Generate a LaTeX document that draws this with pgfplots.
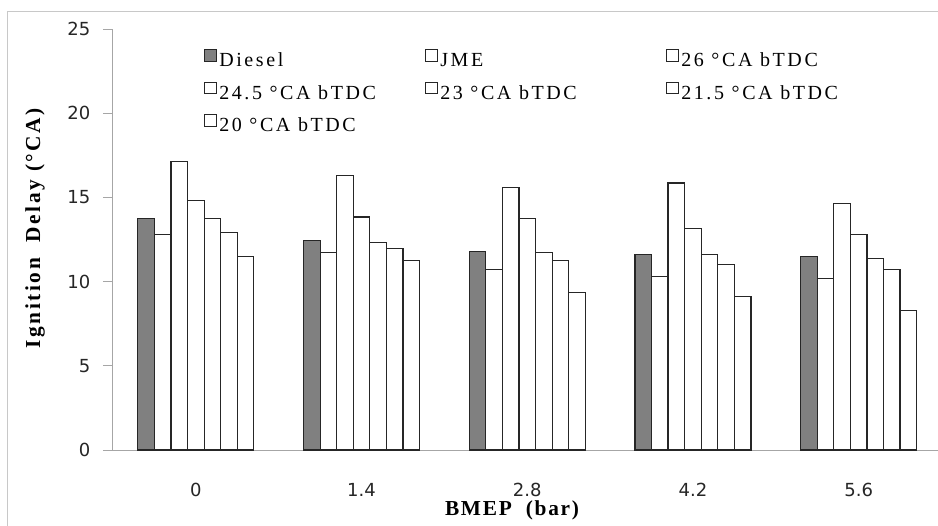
\documentclass[border=0pt]{standalone}
\usepackage{pgfplots}
\pgfplotsset{compat=1.18}
\usepackage{pgfplotstable}
\usepackage{fontspec}
\setmainfont{Liberation Serif}
\newfontfamily\ticksfont{DejaVu Sans}
\newfontfamily\legfont[LetterSpace=13]{Liberation Serif}
\newfontfamily\ylabfont[LetterSpace=12]{Liberation Serif}
\newfontfamily\xlabfont[LetterSpace=8]{Liberation Serif}

\definecolor{axisgray}{HTML}{A6A6A6}
\definecolor{framegray}{HTML}{C8C8C8}
\definecolor{dieselfill}{HTML}{808080}
\definecolor{edge}{HTML}{262626}

% Ignition delay (deg CA) per BMEP level
\pgfplotstableread{
x  diesel jme   t26   t245  t23   t215  t20
0  13.73  12.78 17.14 14.81 13.73 12.90 11.49
1  12.42  11.71 16.31 13.84 12.30 11.95 11.24
2  11.81  10.74 15.60 13.73 11.71 11.24 9.34
3  11.59  10.31 15.86 13.15 11.59 11.00 9.10
4  11.47  10.17 14.65 12.78 11.36 10.74 8.29
}\delaydata

\begin{document}
\begin{tikzpicture}[x=0.75pt,y=0.75pt]
\begin{axis}[
  scale only axis, width=618.75pt, height=315.75pt,
  xmin=-0.5, xmax=4.479, ymin=0, ymax=25,
  ybar=0pt, bar width=0.1,
  axis x line*=bottom, axis y line*=left,
  axis line style={axisgray, line width=0.75pt, -},
  xtick={0,...,4}, xticklabels={0,1.4,2.8,4.2,5.6},
  ytick={0,5,...,25},
  x tick style={draw=none},
  y tick style={axisgray, line width=0.75pt},
  tick align=outside, major tick length=7.5pt,
  /pgf/number format/assume math mode=true,
  tick label style={font=\ticksfont\fontsize{13.5}{15}\selectfont, text=black!85},
  xticklabel style={yshift=-14pt},
  yticklabel style={xshift=-6pt},
  ylabel={Ignition\ \ Delay (°CA)},
  xlabel={BMEP\ \ (bar)},
  ylabel style={font=\ylabfont\bfseries\fontsize{16}{18}\selectfont,
    at={(axis description cs:-0.0945,0.527)}, anchor=center},
  xlabel style={font=\xlabfont\bfseries\fontsize{16}{18}\selectfont,
    at={(axis description cs:0.4836,-0.1425)}, anchor=center},
  legend columns=3,
  legend style={draw=none, fill=none, at={(axis description cs:0.1103,0.952)}, anchor=north west,
    inner sep=0pt, column sep=1.5pt, row sep=10pt,
    font=\legfont\fontsize{15}{17}\selectfont,
    nodes={inner sep=0pt, anchor=west}},
  legend image code/.code={\draw[#1, line width=0.75pt] (0pt,-0.5pt) rectangle (9pt,8pt);},
  every axis plot/.append style={draw=edge, line width=0.9pt},
]
\coordinate (o) at (rel axis cs:0,0);
\addplot[fill=dieselfill] table[x=x, y=diesel] \delaydata;
\addlegendentry{\makebox[153pt][l]{Diesel}}
\addplot[fill=white] table[x=x, y=jme] \delaydata;
\addlegendentry{\makebox[168pt][l]{JME}}
\addplot[fill=white] table[x=x, y=t26] \delaydata;
\addlegendentry{26 °CA bTDC}
\addplot[fill=white] table[x=x, y=t245] \delaydata;
\addlegendentry{\makebox[153pt][l]{24.5 °CA bTDC}}
\addplot[fill=white] table[x=x, y=t23] \delaydata;
\addlegendentry{\makebox[168pt][l]{23 °CA bTDC}}
\addplot[fill=white] table[x=x, y=t215] \delaydata;
\addlegendentry{21.5 °CA bTDC}
\addplot[fill=white] table[x=x, y=t20] \delaydata;
\addlegendentry{20 °CA bTDC}
\end{axis}
% chart area frame
\draw[framegray, line width=0.75pt] (o) ++(-105,-120) -- ++(0,558) -- ++(1000,0);
\pgfresetboundingbox
\path[use as bounding box] (o) ++(-113,-75) rectangle ++(938,525);
\end{tikzpicture}
\end{document}
